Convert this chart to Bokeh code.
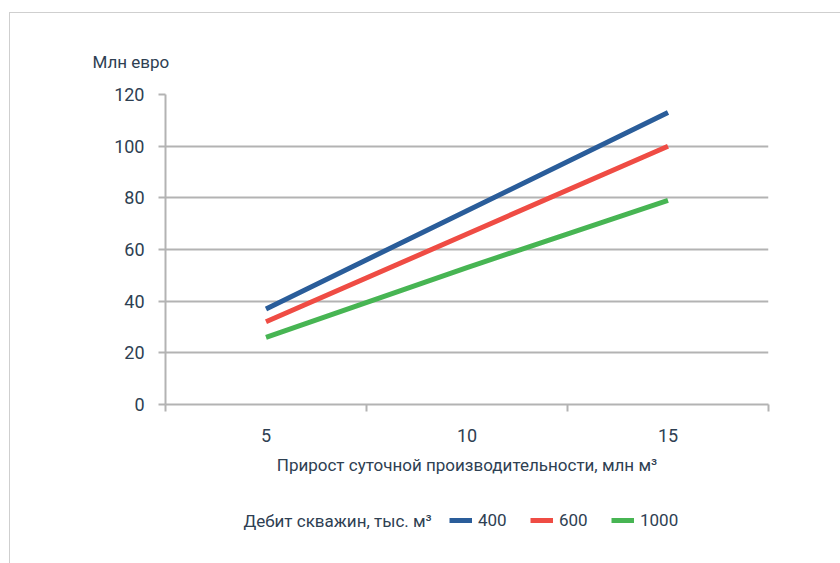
from bokeh.plotting import figure
from bokeh.layouts import column
from bokeh.models import (Range1d, FixedTicker, Label, Legend, LegendItem)
from bokeh.embed import file_html
from bokeh.resources import INLINE

# ---- data ----
x_values = [5, 10, 15]
x_tick_labels = ["5", "10", "15"]
x_boundaries = [2.5, 7.5, 12.5, 17.5]
y_ticks = [0, 20, 40, 60, 80, 100, 120]
series_names = ["400", "600", "1000"]
debit_400 = [37, 75, 113]
debit_600 = [32, 66, 100]
debit_1000 = [26, 53, 79]
colors = ["#2a5d9a", "#ef4c44", "#47b553"]

FONT = "Roboto"
TXT = "#2e4052"
GRID = "#b3b3b3"

MAIN_H = 485
LEG_H = 563 - MAIN_H
FRAME_L = 165

p = figure(width=840, height=MAIN_H, output_backend="svg", toolbar_location=None,
           x_range=Range1d(2.5, 17.5), y_range=Range1d(0, 120),
           min_border_left=FRAME_L, min_border_right=72, min_border_top=94,
           min_border_bottom=MAIN_H - 404)
p.border_fill_color = None
p.background_fill_color = None
p.outline_line_color = None

renderers = []
for vals, c in zip([debit_400, debit_600, debit_1000], colors):
    r = p.line(x_values, vals, line_color=c, line_width=5)
    renderers.append(r)

# y-axis title as a left-aligned title above the frame
p.title.text = "Млн евро"
p.title.align = "left"
p.title.offset = 92 - FRAME_L
p.title.standoff = 46
p.title.text_font = FONT
p.title.text_font_size = "17px"
p.title.text_font_style = "normal"
p.title.text_color = TXT

# y axis
ya = p.yaxis[0]
ya.ticker = FixedTicker(ticks=y_ticks)
ya.axis_line_color = GRID
ya.axis_line_width = 2
ya.major_tick_line_color = GRID
ya.major_tick_line_width = 2
ya.major_tick_out = 7
ya.major_tick_in = 0
ya.minor_tick_line_color = None
ya.major_label_standoff = 14
ya.major_label_text_font = FONT
ya.major_label_text_font_size = "18px"
ya.major_label_text_color = TXT

# x axis
xa = p.xaxis[0]
xa.ticker = FixedTicker(ticks=x_values, minor_ticks=x_boundaries)
xa.major_label_overrides = {v: s for v, s in zip(x_values, x_tick_labels)}
xa.axis_line_color = GRID
xa.axis_line_width = 2
xa.major_tick_line_color = None
xa.major_tick_out = 0
xa.major_tick_in = 0
xa.minor_tick_line_color = GRID
xa.minor_tick_line_width = 2
xa.minor_tick_out = 7
xa.minor_tick_in = 0
xa.major_label_standoff = 17
xa.major_label_text_font = FONT
xa.major_label_text_font_size = "18px"
xa.major_label_text_color = TXT
xa.axis_label = "Прирост суточной производительности, млн м³"
xa.axis_label_text_font = FONT
xa.axis_label_text_font_size = "17px"
xa.axis_label_text_font_style = "normal"
xa.axis_label_text_color = TXT
xa.axis_label_standoff = 10

p.xgrid.grid_line_color = None
p.ygrid.ticker = FixedTicker(ticks=y_ticks[1:])
p.ygrid.grid_line_color = GRID
p.ygrid.grid_line_width = 2

# ---- legend strip (its frame is aligned with the main frame) ----
q = figure(width=840, height=LEG_H, output_backend="svg", toolbar_location=None,
           x_range=Range1d(0, 1), y_range=Range1d(-20, -19),
           min_border_left=FRAME_L, min_border_right=72, min_border_top=0, min_border_bottom=0,
           x_axis_type=None, y_axis_type=None)
q.border_fill_color = None
q.background_fill_color = None
q.outline_line_color = None
q.grid.visible = False

# same series drawn out of view, only to feed the legend glyphs
leg_renderers = [q.line(x_values, vals, line_color=c, line_width=5)
                 for vals, c in zip([debit_400, debit_600, debit_1000], colors)]
row_y = LEG_H - (520 - MAIN_H)

q.add_layout(Label(x=243 - FRAME_L, y=row_y, x_units="screen", y_units="screen",
                   text="Дебит скважин, тыс. м³", text_font=FONT, text_font_size="17px",
                   text_color=TXT, text_baseline="middle"))

legend = Legend(items=[LegendItem(label=n, renderers=[r]) for n, r in zip(series_names, leg_renderers)],
                orientation="horizontal", location=(449 - FRAME_L, row_y - 10),
                glyph_width=23, glyph_height=20, label_standoff=6, label_width=40,
                label_height=20, spacing=12, padding=0, margin=0,
                border_line_color=None, background_fill_color=None,
                label_text_font=FONT, label_text_font_size="17px", label_text_color=TXT)
q.add_layout(legend, "center")

layout = column(p, q, spacing=0)
layout.styles = {"box-shadow": "inset 9px 12px 0 0 #ffffff, inset 10px 13px 0 0 #cfcfcf",
                 "background-color": "#ffffff"}

open("out.html", "w").write(file_html(layout, INLINE))
